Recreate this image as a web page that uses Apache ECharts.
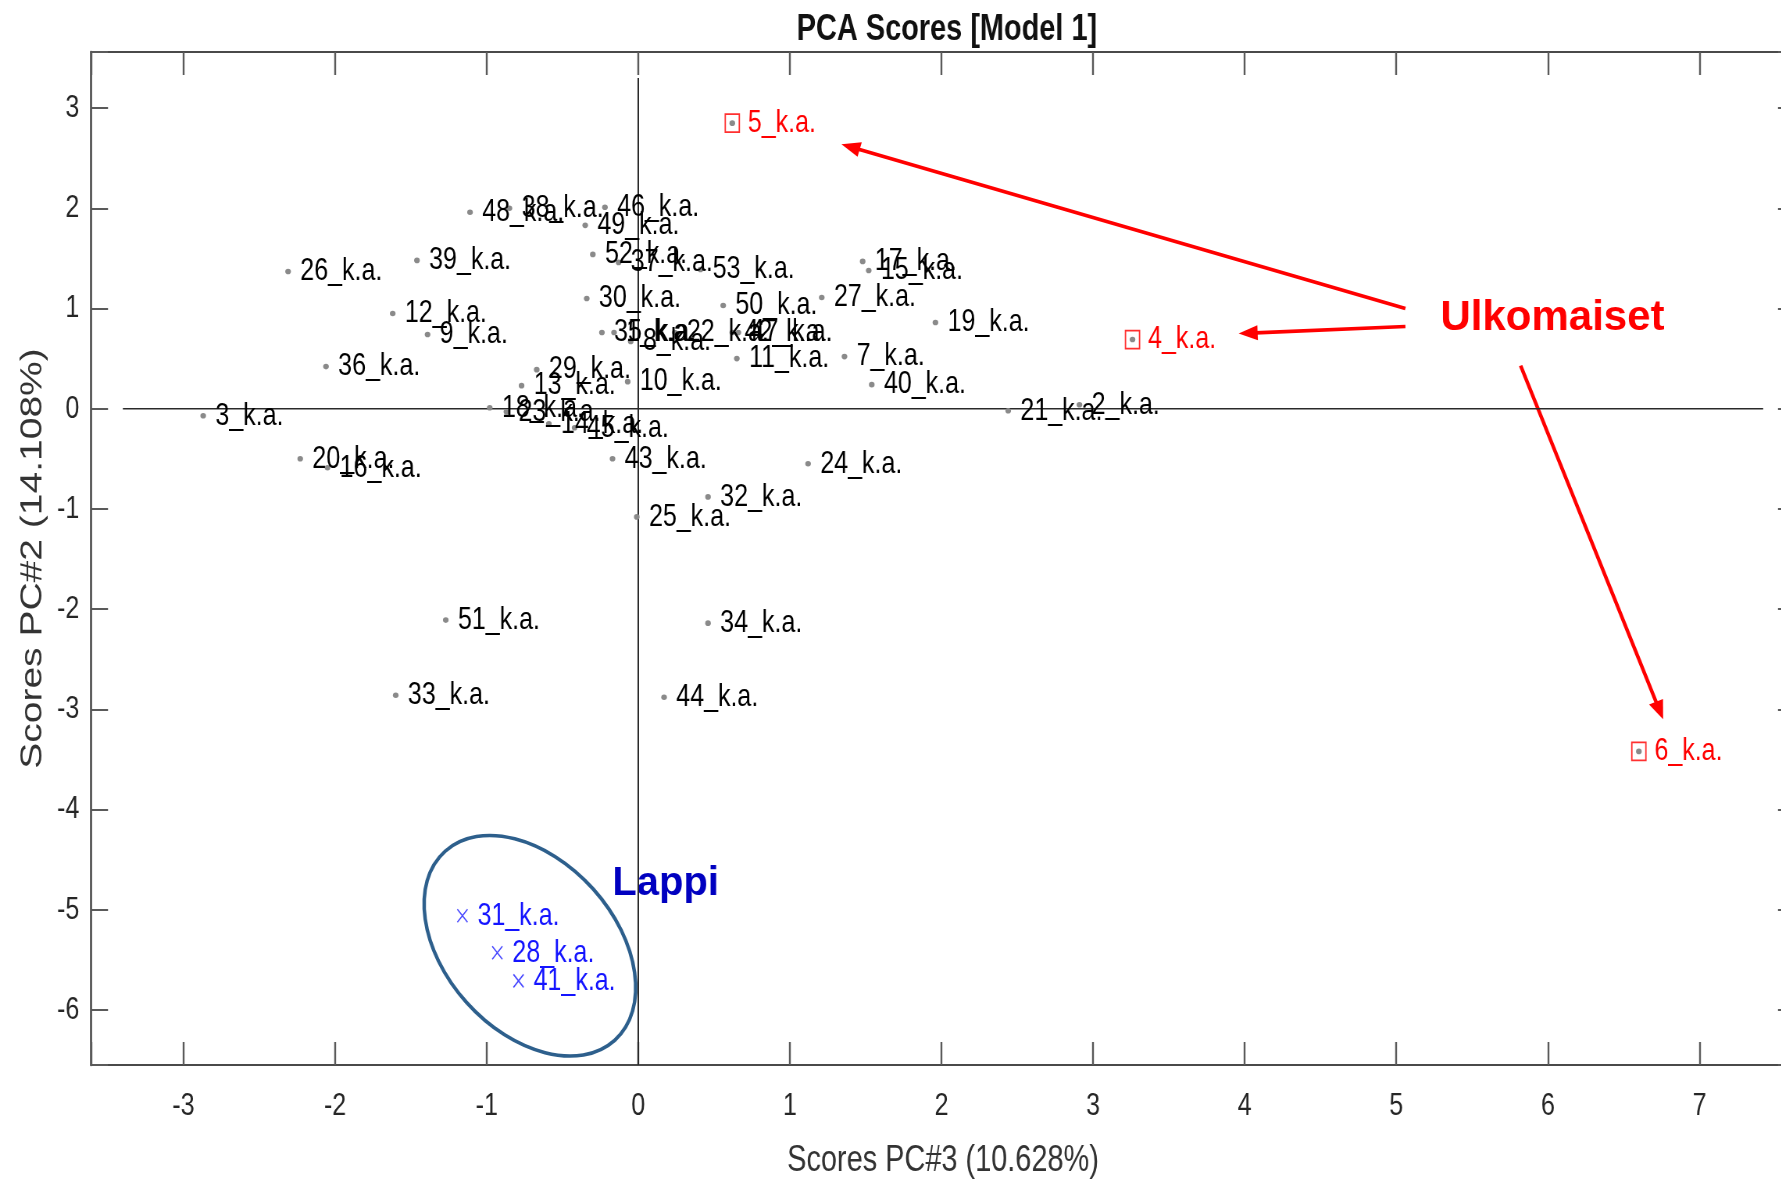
<!DOCTYPE html>
<html><head><meta charset="utf-8">
<script src="https://cdn.jsdelivr.net/npm/echarts@6/dist/echarts.min.js"></script>
<style>
html,body{margin:0;padding:0;background:#fff;overflow:hidden;width:1781px;height:1179px}
#c{position:absolute;left:0;top:0;width:2280px;height:1179px;transform:scaleX(0.78125);transform-origin:0 0}
</style>
</head><body><div id="c"></div>
<script>
// ---- data ----
const sampleIds = [1,2,3,4,5,6,7,8,9,10,11,12,13,14,15,16,17,18,19,20,21,22,23,24,25,26,27,28,29,30,31,32,33,34,35,36,37,38,39,40,41,42,43,44,45,46,47,48,49,50,51,52,53];
const pc3Scores = [-0.16,2.91,-2.87,3.26,0.62,6.60,1.36,-0.05,-1.39,-0.07,0.65,-1.62,-0.77,-0.59,1.52,-2.05,1.48,-0.98,1.96,-2.23,2.44,0.24,-0.87,1.12,-0.01,-2.31,1.21,-0.93,-0.67,-0.34,-1.16,0.46,-1.60,0.46,-0.24,-2.06,-0.13,-0.85,-1.46,1.54,-0.79,0.62,-0.17,0.17,-0.42,-0.22,0.66,-1.11,-0.35,0.56,-1.27,-0.30,0.41];
const pc2Scores = [0.76,0.04,-0.07,0.69,2.85,-3.42,0.52,0.67,0.74,0.27,0.50,0.95,0.23,-0.15,1.38,-0.59,1.47,0.01,0.86,-0.50,-0.02,0.76,-0.03,-0.55,-1.08,1.37,1.11,-5.43,0.39,1.10,-5.06,-0.88,-2.86,-2.14,0.76,0.42,1.46,2.00,1.48,0.24,-5.71,0.76,-0.50,-2.88,-0.19,2.01,0.76,1.96,1.83,1.03,-2.11,1.54,1.39];
const foreignIds = [4,5,6];
const lappiIds = [28,31,41];
const xTickValues = [-3,-2,-1,0,1,2,3,4,5,6,7];
const yTickValues = [-6,-5,-4,-3,-2,-1,0,1,2,3];
const xRange = [-3.61, 7.63];
const yRange = [-6.55, 3.56];
const zeroLineH = [-3.40, 7.42];
const zeroLineV = [-6.55, 3.30];
// annotation arrows (score units)
const arrowStart = [[5.06,1.00],[5.06,0.82],[5.82,0.43]];
const arrowEnd = [[1.34,2.64],[3.96,0.75],[6.76,-3.10]];
const noteTexts = ['Ulkomaiset','Lappi'];
const notePos = [[6.03,0.90],[0.18,-4.74]];
const ellipseCenter = [-0.715,-5.36];

// ---- build ----
const K = 1.28; // horizontal compression of the original figure
const FONT = "'Liberation Sans',Arial,sans-serif";
const lbl = id => id + '_k.a.';
const pts = sampleIds.map((id,i)=>({id, name: lbl(id), value:[pc3Scores[i], pc2Scores[i]]}));
const dotData = pts.filter(p=>!lappiIds.includes(p.id)).map(p=>({name:p.name, value:p.value,
  label:{show: !foreignIds.includes(p.id)}}));
const redData = pts.filter(p=>foreignIds.includes(p.id)).map(p=>({name:p.name, value:p.value}));
const blueData = pts.filter(p=>lappiIds.includes(p.id)).map(p=>({name:p.name, value:p.value}));

const tickFmt = list => v => (list.some(t=>Math.abs(t-v)<1e-9) ? String(v) : '');
const labelBase = {color:'#262626', fontSize:32, fontFamily:FONT};

const chart = echarts.init(document.getElementById('c'), null, {renderer:'canvas', width:2280, height:1179});
chart.setOption({
  animation:false,
  backgroundColor:'#ffffff',
  title:{text:'PCA Scores [Model 1]', left:943*K, top:6, textAlign:'center',
    textStyle:{fontSize:37, fontWeight:'bold', fontFamily:FONT, color:'#111'}},
  grid:{left:91*K, top:52, width:1704*K, height:1013, containLabel:false, outerBoundsMode:'none'},
  xAxis:[
    {type:'value', position:'bottom', min:xRange[0], max:xRange[1], minInterval:1, maxInterval:1, splitNumber:11,
      axisLine:{onZero:false, lineStyle:{color:'#4a4a4a', width:2}},
      axisTick:{inside:true, length:23, lineStyle:{color:'#5a5a5a', width:2.4}},
      axisLabel:Object.assign({margin:25, formatter:tickFmt(xTickValues)}, labelBase),
      splitLine:{show:false},
      name:'Scores PC#3 (10.628%)', nameLocation:'middle', nameGap:77,
      nameTextStyle:{fontSize:37, fontFamily:FONT, color:'#333'}},
    {type:'value', position:'top', min:xRange[0], max:xRange[1], minInterval:1, maxInterval:1, splitNumber:11,
      axisLine:{onZero:false, lineStyle:{color:'#4a4a4a', width:2}},
      axisTick:{inside:true, length:23, lineStyle:{color:'#5a5a5a', width:2.4}},
      axisLabel:{show:false}, splitLine:{show:false}}
  ],
  yAxis:[
    {type:'value', position:'left', min:yRange[0], max:yRange[1], minInterval:1, maxInterval:1, splitNumber:10,
      axisLine:{onZero:false, lineStyle:{color:'#4a4a4a', width:2.6}},
      axisTick:{inside:true, length:17*K, lineStyle:{color:'#5a5a5a', width:2}},
      axisLabel:Object.assign({margin:15, formatter:tickFmt(yTickValues)}, labelBase),
      splitLine:{show:false},
      name:'Scores PC#2 (14.108%)', nameLocation:'middle', nameGap:55, nameRotate:90,
      nameTextStyle:{fontSize:39, fontFamily:FONT, color:'#333'}},
    {type:'value', position:'right', min:yRange[0], max:yRange[1], minInterval:1, maxInterval:1, splitNumber:10,
      axisLine:{onZero:false, lineStyle:{color:'#4a4a4a', width:2.6}},
      axisTick:{inside:true, length:17*K, lineStyle:{color:'#5a5a5a', width:2}},
      axisLabel:{show:false}, splitLine:{show:false}}
  ],
  series:[
    {type:'line', name:'zeroH', data:[[zeroLineH[0],0],[zeroLineH[1],0]], showSymbol:false, symbol:'none', silent:true,
      lineStyle:{color:'#2a2a2a', width:1.6}, z:1},
    {type:'line', name:'zeroV', data:[[0,zeroLineV[0]],[0,zeroLineV[1]]], showSymbol:false, symbol:'none', silent:true,
      lineStyle:{color:'#2a2a2a', width:2.0}, z:1},
    {type:'scatter', name:'scores', data:dotData, symbol:'circle', symbolSize:[7.2,5.6],
      itemStyle:{color:'#8a8a8a', opacity:1}, z:3,
      label:{show:true, position:'right', distance:12, formatter:'{b}', color:'#000', fontSize:32, fontFamily:FONT}},
    {type:'scatter', name:'ulkomaiset', data:redData, symbol:'rect', symbolSize:18,
      itemStyle:{color:'rgba(255,255,255,0)', borderColor:'#ff3030', borderWidth:1.8, opacity:1}, z:4,
      label:{show:true, position:'right', distance:10, formatter:'{b}', color:'#ff0000', fontSize:32, fontFamily:FONT}},
    {type:'scatter', name:'lappi', data:blueData, symbol:'path://M0,0L10,10M10,0L0,10', symbolSize:13,
      itemStyle:{color:'rgba(0,0,0,0)', borderColor:'#4a4aff', borderWidth:1.6, opacity:1}, z:4,
      label:{show:true, position:'right', distance:12, formatter:'{b}', color:'#1414ff', fontSize:32, fontFamily:FONT}}
  ]
});

// ---- annotations (drawn in a group that undoes the horizontal compression) ----
const toFinal = p => { const q = chart.convertToPixel({gridIndex:0}, p); return [q[0]/K, q[1]]; };
const children = [];
const ec = toFinal(ellipseCenter);
children.push({type:'ellipse', x:ec[0], y:ec[1], rotation:-0.84,
  shape:{cx:0, cy:0, rx:127, ry:85}, style:{fill:'none', stroke:'#2d5f8c', lineWidth:3.5}});
arrowStart.forEach((s,i)=>{
  const a = toFinal(s), b = toFinal(arrowEnd[i]);
  const dx = b[0]-a[0], dy = b[1]-a[1], L = Math.hypot(dx,dy);
  const ux = dx/L, uy = dy/L, hl = 19, hw = 7.5;
  const bx = b[0]-ux*hl, by = b[1]-uy*hl;
  children.push({type:'line', shape:{x1:a[0], y1:a[1], x2:bx+ux*2, y2:by+uy*2},
    style:{stroke:'#ff0000', lineWidth:3.6}});
  children.push({type:'polygon', shape:{points:[[b[0],b[1]],[bx-uy*hw, by+ux*hw],[bx+uy*hw, by-ux*hw]]},
    style:{fill:'#ff0000'}});
});
noteTexts.forEach((t,i)=>{
  const p = toFinal(notePos[i]);
  children.push({type:'text', x:p[0], y:p[1], style:{text:t, fill: i===0 ? '#ff0000' : '#0000c0',
    fontSize: i===0 ? 42 : 40, fontWeight:'bold', fontFamily:FONT,
    align:'center', verticalAlign:'middle', textAlign:'center', textVerticalAlign:'middle'}});
});
chart.setOption({graphic:[{type:'group', x:0, y:0, scaleX:K, scaleY:1, silent:true, z:100, children}]});
</script></body></html>
